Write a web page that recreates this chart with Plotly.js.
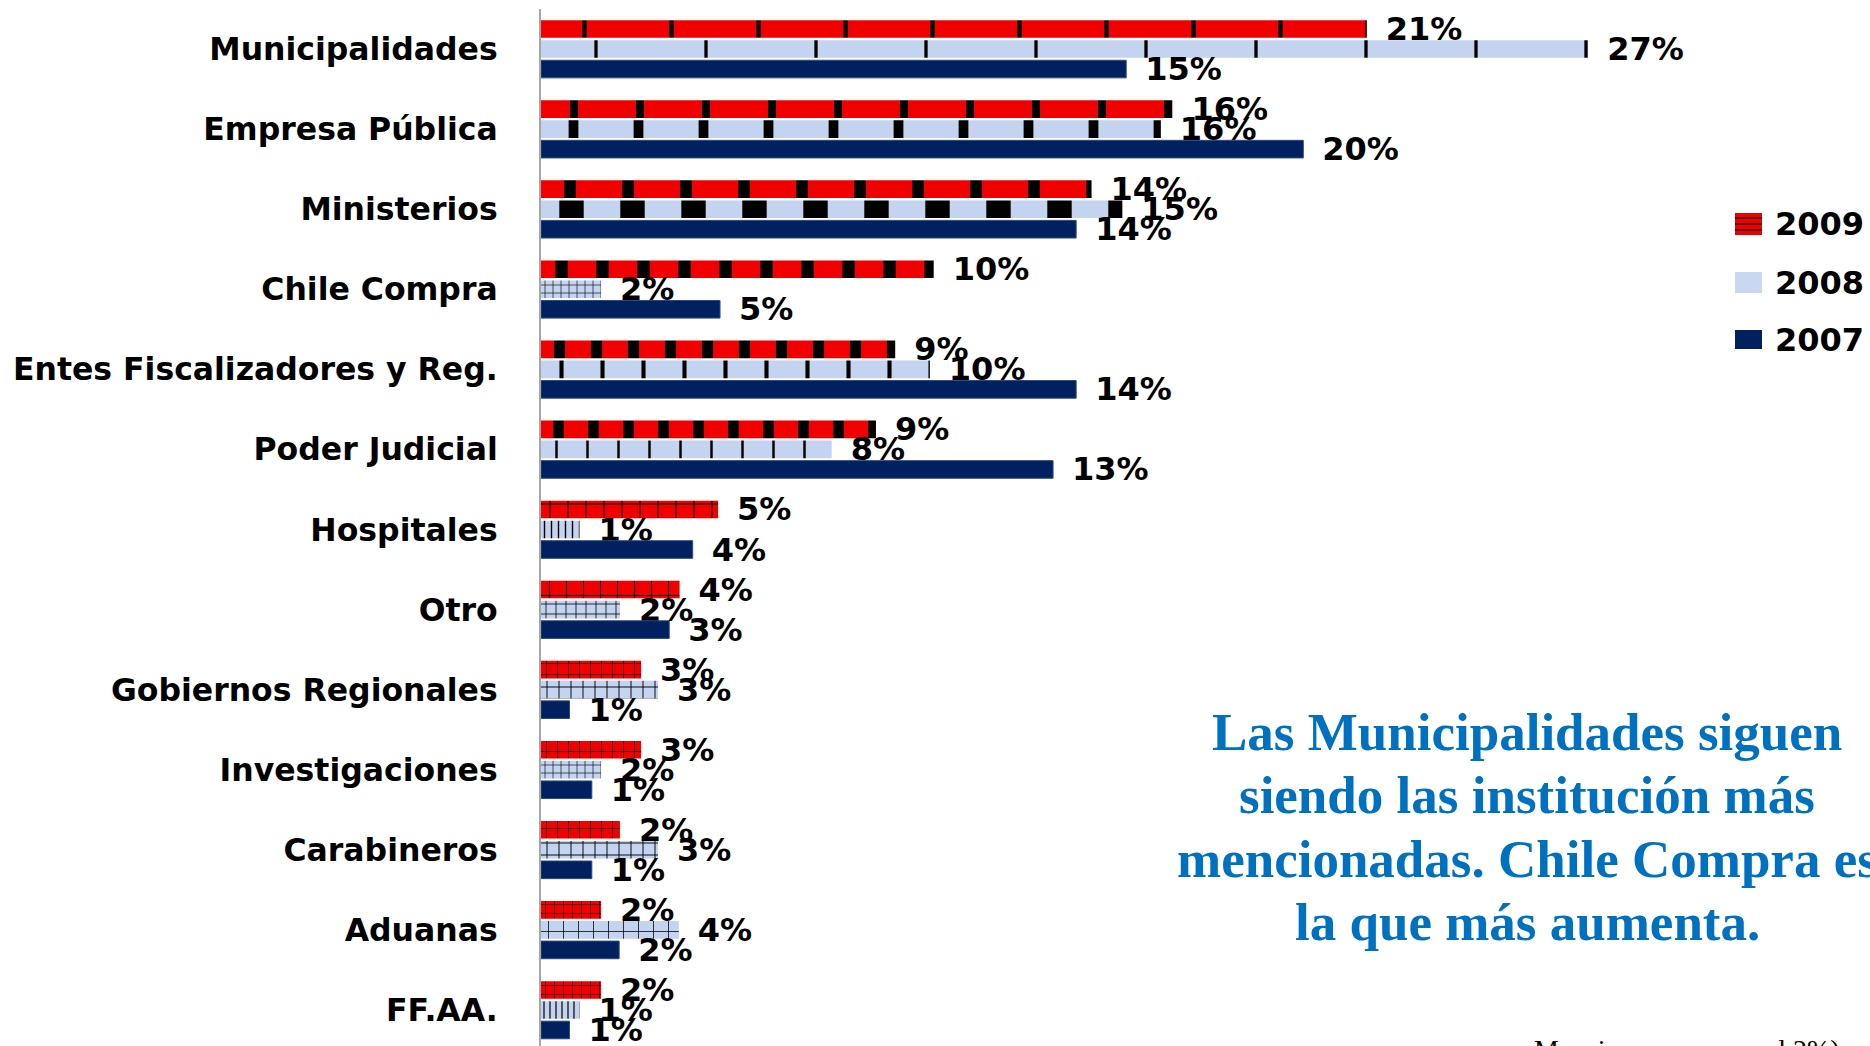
<!DOCTYPE html>
<html>
<head>
<meta charset="utf-8">
<script src="https://cdn.plot.ly/plotly-3.0.1.min.js"></script>
<style>
  html, body { margin: 0; padding: 0; background: #ffffff; overflow: hidden; }
  #chart { width: 1870px; height: 1046px; }
</style>
</head>
<body>
<div id="chart"></div>
<script>
// ---------- data ----------
const categories = [
  "Municipalidades", "Empresa Pública", "Ministerios", "Chile Compra",
  "Entes Fiscalizadores y Reg.", "Poder Judicial", "Hospitales", "Otro",
  "Gobiernos Regionales", "Investigaciones", "Carabineros", "Aduanas", "FF.AA."
];
const seriesNames = ["2009", "2008", "2007"];
const v2009 = [21.45, 16.4, 14.3, 10.2, 9.2, 8.7, 4.6, 3.6, 2.6, 2.6, 2.05, 1.56, 1.56];
const v2008 = [27.2, 16.1, 15.1, 1.56, 10.1, 7.55, 1.0, 2.05, 3.04, 1.56, 3.04, 3.58, 1.0];
const v2007 = [15.2, 19.8, 13.9, 4.65, 13.9, 13.3, 3.94, 3.33, 0.74, 1.32, 1.32, 2.03, 0.74];
const noteLines = [
  "Las Municipalidades siguen",
  "siendo las institución más",
  "mencionadas. Chile Compra es",
  "la que más aumenta."
];
const footText = "Menciones mayores al 2%)";

// ---------- styles ----------
const W = 1870, H = 1046;
const M = { l: 541, r: 0, t: 9, b: 0 };
const PW = W - M.l - M.r, PH = H - M.t - M.b;
const pxX = px => (px - M.l) / PW;
const pxY = py => (H - M.b - py) / PH;

const pat2009 = {
  shape: ["|", "|", "|", "|", "|", "|", "+", "+", "+", "+", "+", "+", "+"],
  size: [87, 66, 58, 41, 37, 35, 18, 17, 11, 11, 11, 9, 9],
  solidity: [0.05, 0.12, 0.2, 0.3, 0.3, 0.3, 0.12, 0.12, 0.12, 0.12, 0.12, 0.12, 0.12],
  fgcolor: "#000000", bgcolor: "#F00000", fillmode: "replace"
};
const pat2008 = {
  shape: ["|", "|", "|", "+", "|", "|", "|", "+", "+", "+", "+", "+", "|"],
  size: [110, 65, 61, 8, 41, 31, 7, 10, 12, 8, 12, 15, 6],
  solidity: [0.03, 0.15, 0.4, 0.15, 0.1, 0.08, 0.2, 0.15, 0.15, 0.15, 0.15, 0.1, 0.2],
  fgcolor: "#000000", bgcolor: "#C3D3F0", fillmode: "replace"
};

const labelFont = { family: "DejaVu Sans", size: 32, color: "#000000", weight: "bold" };

function barTrace(name, vals, marker) {
  return {
    type: "bar", orientation: "h", name: name,
    x: vals, y: categories,
    marker: marker,
    texttemplate: "\u2002%{x:.0f}%",
    textposition: "outside",
    textfont: labelFont,
    constraintext: "none",
    cliponaxis: false,
    hoverinfo: "skip",
    showlegend: false
  };
}

const data = [
  barTrace(seriesNames[0], v2009, { color: "#F00000", pattern: pat2009, line: { width: 0 } }),
  barTrace(seriesNames[1], v2008, { color: "#C3D3F0", pattern: pat2008, line: { width: 0 } }),
  barTrace(seriesNames[2], v2007, { color: "#002060", line: { width: 1, color: "#2c4a80" } })
];

// legend (drawn manually)
const legendRows = [
  { name: seriesNames[0], y0: 213, y1: 235, fill: "#F00000" },
  { name: seriesNames[1], y0: 272, y1: 293, fill: "#C9D7F0" },
  { name: seriesNames[2], y0: 330, y1: 349, fill: "#002060" }
];
const shapes = [];
const annotations = [];
legendRows.forEach(r => {
  shapes.push({
    type: "rect", xref: "paper", yref: "paper",
    x0: pxX(1735), x1: pxX(1762), y0: pxY(r.y1), y1: pxY(r.y0),
    fillcolor: r.fill, line: { width: 0 }
  });
  annotations.push({
    xref: "paper", yref: "paper", x: pxX(1773), y: pxY((r.y0 + r.y1) / 2),
    xanchor: "left", yanchor: "middle", showarrow: false,
    text: r.name, font: labelFont
  });
});
[218, 224, 230].forEach(yy => {
  shapes.push({
    type: "line", xref: "paper", yref: "paper",
    x0: pxX(1735), x1: pxX(1762), y0: pxY(yy), y1: pxY(yy),
    line: { width: 1.5, color: "#300000" }
  });
});

const noteY = [732, 795, 859, 922];
noteLines.forEach((t, i) => {
  annotations.push({
    xref: "paper", yref: "paper", x: pxX(1527), y: pxY(noteY[i]),
    xanchor: "center", yanchor: "middle", showarrow: false,
    text: t,
    font: { family: "Liberation Serif", size: 53, color: "#0070C0", weight: "bold" }
  });
});
annotations.push({
  xref: "paper", yref: "paper", x: pxX(1532), y: pxY(1032),
  xanchor: "left", yanchor: "top", showarrow: false,
  text: footText,
  font: { family: "Liberation Serif", size: 28, color: "#000000" }
});

const layout = {
  width: W, height: H,
  margin: M,
  paper_bgcolor: "#ffffff", plot_bgcolor: "#ffffff",
  barmode: "group", bargap: 0.25, bargroupgap: 0.12,
  xaxis: {
    range: [0, PW / 38.5], visible: false, showgrid: false, zeroline: false
  },
  yaxis: {
    type: "category", range: [12.45, -0.5],
    showline: true, linecolor: "#A6A6A6", linewidth: 2,
    ticks: "", showgrid: false, zeroline: false,
    ticklabelstandoff: 35,
    tickfont: { family: "DejaVu Sans", size: 31.5, color: "#000000", weight: "bold" }
  },
  shapes: shapes,
  annotations: annotations,
  showlegend: false
};

Plotly.newPlot("chart", data, layout, { displayModeBar: false, staticPlot: true });
</script>
</body>
</html>
